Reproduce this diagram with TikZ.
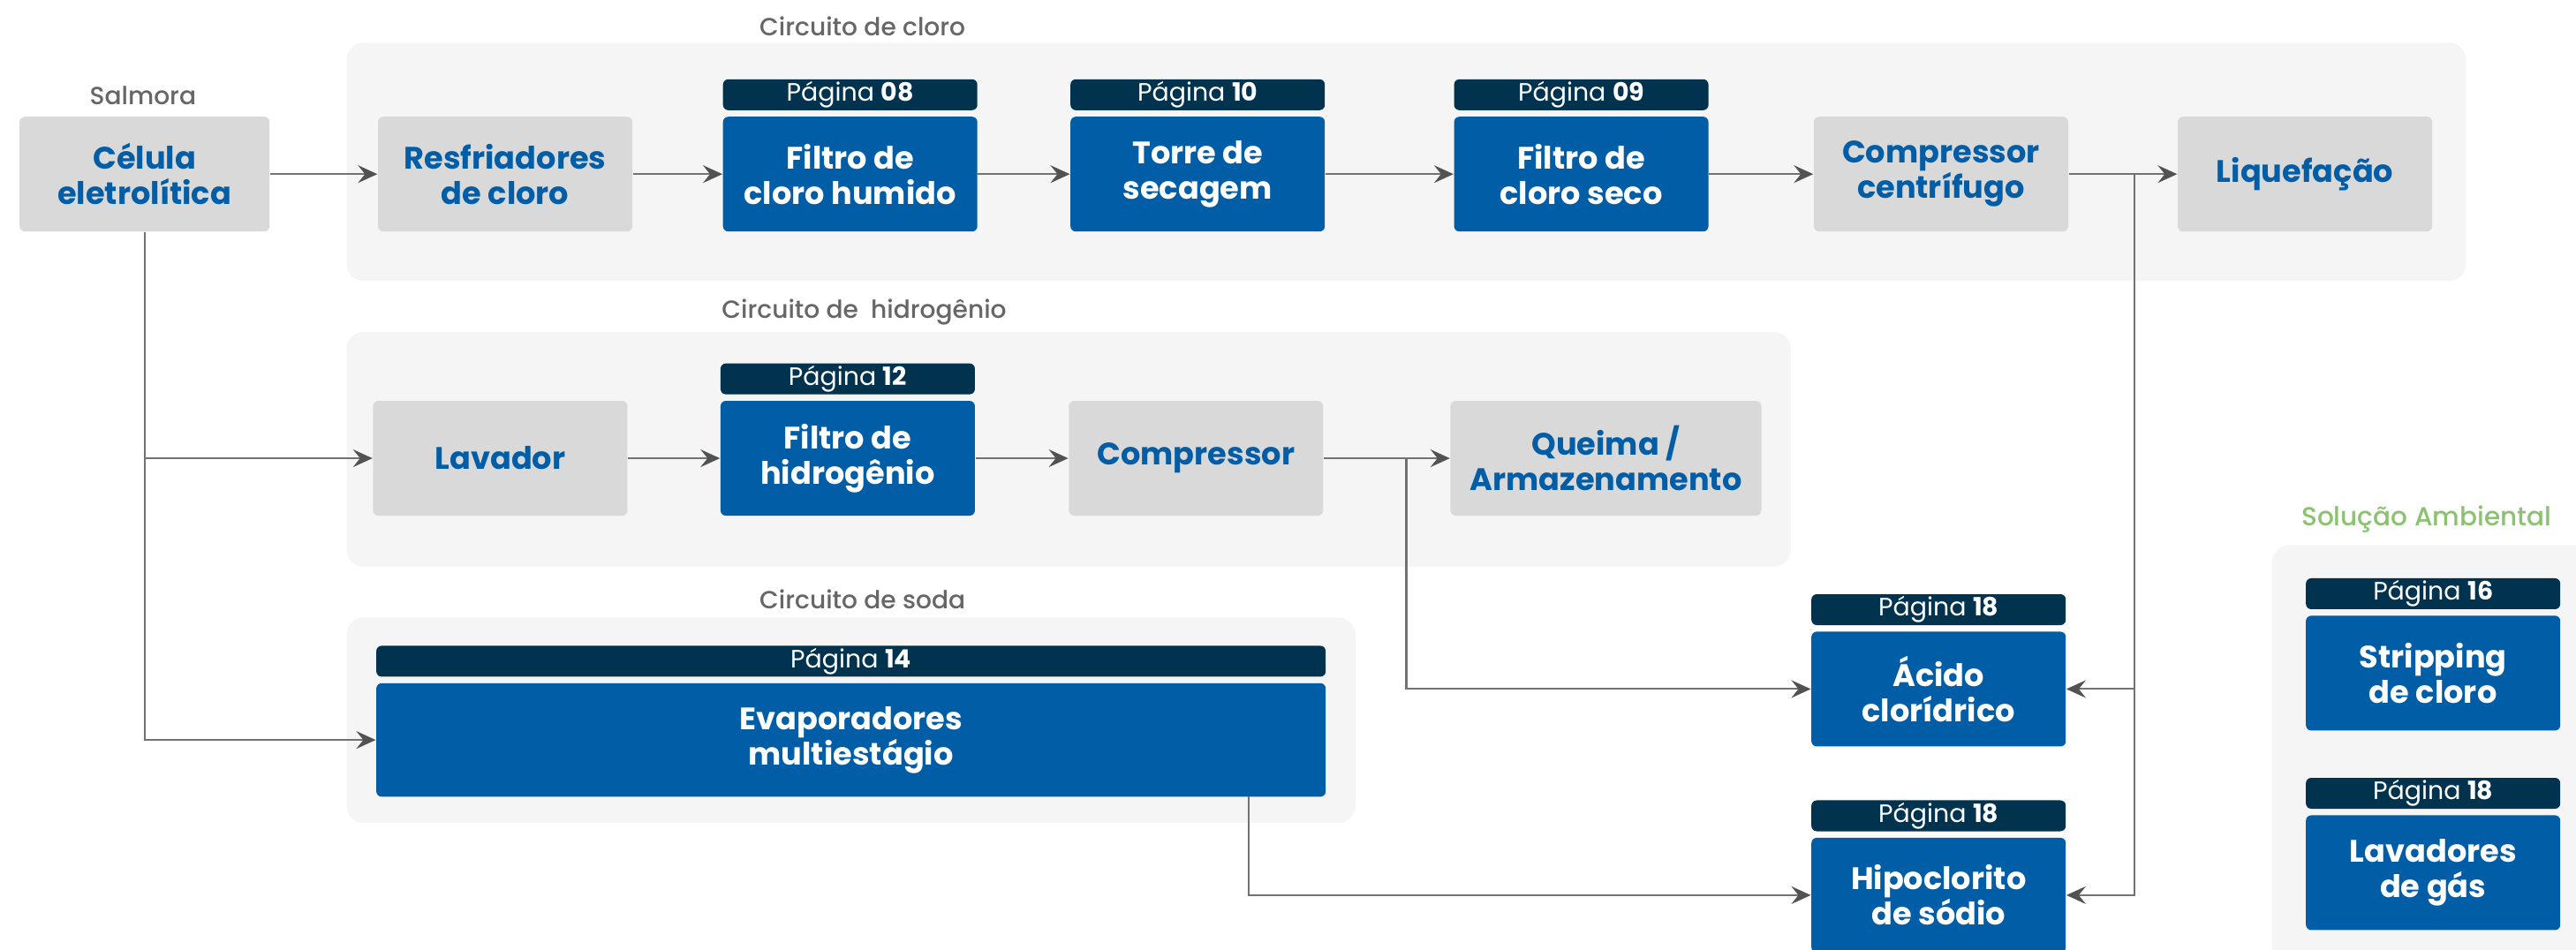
\documentclass[tikz,border=0pt]{standalone}
\usepackage{fontspec}
\setmainfont{Poppins}
\newfontfamily\medfont{Poppins Medium}
\usepackage{tikz}
\usetikzlibrary{positioning,arrows.meta}

\definecolor{boxblue}{HTML}{005DA6}
\definecolor{tagnavy}{HTML}{01324E}
\definecolor{boxgray}{HTML}{D9D9D9}
\definecolor{panelgray}{HTML}{F5F5F5}
\definecolor{titlegray}{HTML}{666666}
\definecolor{linegray}{HTML}{727272}
\definecolor{envgreen}{HTML}{8BC270}

\tikzset{
  unit/.style={rectangle, rounded corners=0.6mm, minimum width=28.8mm, minimum height=13mm,
    inner sep=0pt, align=center, font=\fontsize{10}{11.3}\selectfont\bfseries},
  grayunit/.style={unit, fill=boxgray, text=boxblue},
  blueunit/.style={unit, fill=boxblue, text=white},
  tag/.style={rectangle, rounded corners=0.6mm, fill=tagnavy, text=white, minimum width=28.8mm,
    minimum height=3.5mm, inner sep=0pt, font=\fontsize{8.1}{9}\selectfont},
  panel/.style={fill=panelgray, rounded corners=1.9mm},
  title/.style={text=titlegray, font=\fontsize{8}{9}\selectfont\medfont},
  flow/.style={draw=linegray, line width=0.6pt,
    -{Stealth[length=2.2mm,width=2mm,inset=0.8mm,color=black!68]}},
}

\begin{document}
\begin{tikzpicture}[x=1.8603mm,y=-1.8603mm]
  \useasboundingbox (0,0) rectangle (156.8,57.8);
  % circuitos
  \fill[panel] (21.1,2.6) rectangle (150.1,17.1);
  \fill[panel] (21.1,20.2) rectangle (109.0,34.5);
  \fill[panel] (21.1,37.6) rectangle (82.5,50.1);
  \fill[panel] (138.3,33.2) rectangle (162,62);
  \node[title] (tcloro) at (52.5,1.6) {Circuito de cloro};
  \node[title] (thid) at (52.6,19.0) {Circuito de\hspace{0.5em}hidrogênio};
  \node[title] (tsoda) at (52.5,36.5) {Circuito de soda};
  \node[title, text=envgreen, font=\fontsize{8.4}{9}\selectfont\medfont] (tamb) at (147.7,31.6) {Solução Ambiental};
  \node[title] (tsal) at (8.7,5.8) {Salmora};

  \node[grayunit, minimum width=28.3mm] (cel) at (8.8,10.6) {Célula\\eletrolítica};
  \node[grayunit] (resf) at (30.75,10.6) {Resfriadores\\de cloro};
  \node[blueunit] (fhum) at (51.75,10.6) {Filtro de\\cloro humido};
  \node[tag, above=0.6mm of fhum] (pfhum) {Página \textbf{08}};
  \node[blueunit] (torre) at (72.9,10.6) {Torre de\\secagem};
  \node[tag, above=0.6mm of torre] (ptorre) {Página \textbf{10}};
  \node[blueunit] (fseco) at (96.25,10.6) {Filtro de\\cloro seco};
  \node[tag, above=0.6mm of fseco] (pfseco) {Página \textbf{09}};
  \node[grayunit] (compc) at (118.15,10.6) {Compressor\\centrífugo};
  \node[grayunit] (liq) at (140.3,10.6) {Liquefação};

  \node[grayunit] (lav) at (30.45,27.9) {Lavador};
  \node[blueunit] (fhid) at (51.6,27.9) {Filtro de\\hidrogênio};
  \node[tag, above=0.6mm of fhid] (pfhid) {Página \textbf{12}};
  \node[grayunit] (comp) at (72.8,27.9) {Compressor};
  \node[grayunit, minimum width=35.2mm] (queima) at (97.75,27.9) {Queima /\\Armazenamento};

  \node[blueunit, minimum width=107.5mm, minimum height=12.85mm] (evap) at (51.8,45.05) {Evaporadores\\multiestágio};
  \node[tag, minimum width=107.5mm, above=0.6mm of evap] (pevap) {Página \textbf{14}};

  \node[blueunit] (acido) at (118.0,41.95) {Ácido\\clorídrico};
  \node[tag, above=0.6mm of acido] (pacido) {Página \textbf{18}};
  \node[blueunit] (hipo) at (118.0,54.5) {Hipoclorito\\de sódio};
  \node[tag, above=0.6mm of hipo] (phipo) {Página \textbf{18}};

  \node[blueunit] (strip) at (148.1,40.98) {Stripping\\de cloro};
  \node[tag, above=0.6mm of strip] (pstrip) {Página \textbf{16}};
  \node[blueunit] (lavg) at (148.1,53.13) {Lavadores\\de gás};
  \node[tag, above=0.6mm of lavg] (plavg) {Página \textbf{18}};

  \draw[flow] (cel) -- (resf);
  \draw[flow] (resf) -- (fhum);
  \draw[flow] (fhum) -- (torre);
  \draw[flow] (torre) -- (fseco);
  \draw[flow] (fseco) -- (compc);
  \draw[flow] (compc) -- (liq);
  \draw[flow] (lav) -- (fhid);
  \draw[flow] (fhid) -- (comp);
  \draw[flow] (comp) -- (queima);

  \coordinate (jc) at (129.9,10.6);
  \coordinate (jh) at (85.6,27.9);
  \coordinate (je) at (76.0,48.5);
  \draw[flow] (cel.south) |- (lav.west);
  \draw[flow] (cel.south) |- (evap.west);
  \draw[flow] (jc) |- (acido.east);
  \draw[flow] (jc) |- (hipo.east);
  \draw[flow] (jh) |- (acido.west);
  \draw[flow] (je) |- (hipo.west);
\end{tikzpicture}
\end{document}
